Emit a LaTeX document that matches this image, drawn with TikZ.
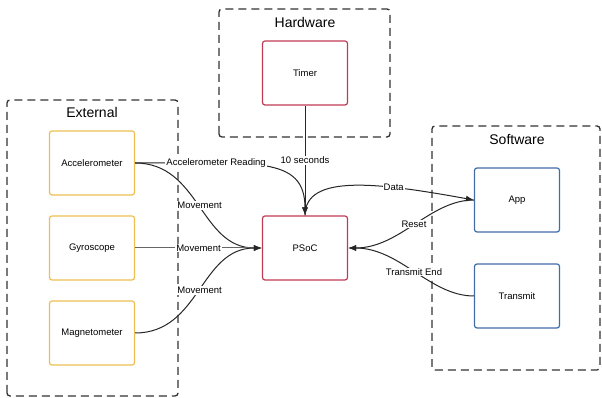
\documentclass[tikz,border=0pt]{standalone}
\usepackage{fontspec}
\setmainfont{Liberation Sans}
\usetikzlibrary{arrows.meta}
\definecolor{extcol}{RGB}{238,190,80}
\definecolor{hwcol}{RGB}{190,58,84}
\definecolor{swcol}{RGB}{64,108,168}
\begin{document}
\begin{tikzpicture}[x=1pt,y=1pt]
    \tikzset{group/.style = {draw=black!80,line width=1.3pt,dash pattern=on 8pt off 5pt,rounded corners=3pt}}
    \tikzset{title/.style = {font=\fontsize{14}{16}\selectfont}}
    \tikzset{block/.style = {shape=rectangle,draw,line width=1.2pt,rounded corners=2.5pt,minimum width=85pt,minimum height=64pt,font=\fontsize{9.5}{11}\selectfont}}
    \tikzset{edge/.style = {black!85,line width=1pt,-{Latex[length=8pt,width=6pt]}}}
    \tikzset{lbl/.style = {fill=white,text=black,inner sep=1pt,font=\fontsize{9.5}{11}\selectfont}}
    \useasboundingbox (0,0) rectangle (602,398);
    % dashed groups
    \draw[group] (7,2) rectangle (178,298);
    \node[title] (exttitle) at (92,285) {External};
    \draw[group] (219,261) rectangle (390,389);
    \node[title] (hwtitle) at (305,375) {Hardware};
    \draw[group] (432,28) rectangle (600,272);
    \node[title] (swtitle) at (517,258) {Software};
    % sensors on the left
    \node[block,draw=extcol] (acc) at (92,235) {Accelerometer};
    \node[block,draw=extcol] (gyro) at (92,150) {Gyroscope};
    \node[block,draw=extcol] (mag) at (92,65) {Magnetometer};
    % hardware in the middle
    \node[block,draw=hwcol] (timer) at (305,325) {Timer};
    \node[block,draw=hwcol] (psoc) at (305,150) {PSoC};
    % software on the right
    \node[block,draw=swcol] (app) at (517,198) {App};
    \node[block,draw=swcol] (transmit) at (517,102) {Transmit};
    % connectors into the PSoC
    \draw[edge] (acc.east) .. controls +(120,0) and +(0,60) .. node[lbl,pos=0.265] {Accelerometer Reading} (psoc.north);
    \draw[edge] (timer.south) -- node[lbl,midway] {10 seconds} (psoc.north);
    \draw[edge] (acc.east) .. controls (200,235) and (200,150) .. node[lbl,midway] {Movement} (psoc.west);
    \draw[edge,draw=black!60] (gyro.east) -- node[lbl,midway] {Movement} (psoc.west);
    \draw[edge] (mag.east) .. controls (200,65) and (200,150) .. node[lbl,midway] {Movement} (psoc.west);
    \draw[edge] (app.west) .. controls (430,198) and (400,150) .. node[lbl,midway] {Reset} (psoc.east);
    \draw[edge] (transmit.west) .. controls (430,102) and (400,150) .. node[lbl,midway] {Transmit End} (psoc.east);
    % connector out of the PSoC
    \draw[edge] (psoc.north) .. controls (305,225) and (380,215) .. node[lbl,pos=0.69] {Data} (app.west);
\end{tikzpicture}
\end{document}
